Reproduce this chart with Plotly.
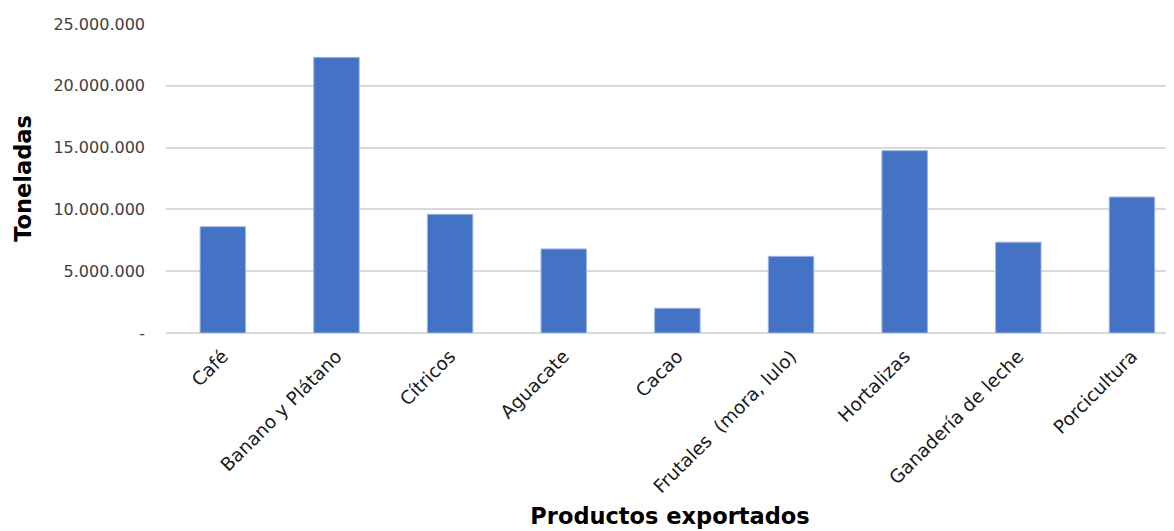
import plotly.graph_objects as go

categories = ["Café", "Banano y Plátano", "Cítricos", "Aguacate", "Cacao",
              "Frutales  (mora, lulo)", "Hortalizas", "Ganadería de leche", "Porcicultura"]
toneladas = [8600000, 22300000, 9600000, 6800000, 2000000,
             6200000, 14750000, 7350000, 11000000]
y_tickvals = [0, 5000000, 10000000, 15000000, 20000000, 25000000]
y_ticktext = ["-", "5.000.000", "10.000.000", "15.000.000", "20.000.000", "25.000.000"]

FONT = "DejaVu Sans, sans-serif"

fig = go.Figure(go.Bar(
    x=categories, y=toneladas,
    marker=dict(color="#4472C4", line=dict(color="#9DB5E3", width=1)),
))

fig.update_layout(
    width=1174, height=531,
    margin=dict(l=158, r=8, t=16, b=206),
    paper_bgcolor="white", plot_bgcolor="white",
    bargap=0.6,
    showlegend=False,
    font=dict(family=FONT, color="#404040", size=16),
)
fig.update_xaxes(
    range=[-0.5, 8.37],
    tickangle=-45,
    tickfont=dict(family=FONT, size=18.5, color="#1a1a1a"),
    showgrid=False,
    ticks="", ticklabelstandoff=8,
    title=dict(text="<b>Productos exportados</b>",
               font=dict(family=FONT, size=22.5, color="#000000"), standoff=12),
    automargin=False,
)
fig.update_yaxes(
    range=[0, 25000000],
    tickvals=y_tickvals, ticktext=y_ticktext,
    tickfont=dict(family=FONT, size=16, color="#404040"),
    showgrid=True, gridcolor="#D9D9D9", gridwidth=1.5,
    zeroline=True, zerolinecolor="#D9D9D9", zerolinewidth=1.5,
    ticks="", ticklabelstandoff=20,
    title=dict(text="<b>Toneladas</b>",
               font=dict(family=FONT, size=22.5, color="#000000"), standoff=15),
    automargin=False,
)

fig.write_html("out.html")
